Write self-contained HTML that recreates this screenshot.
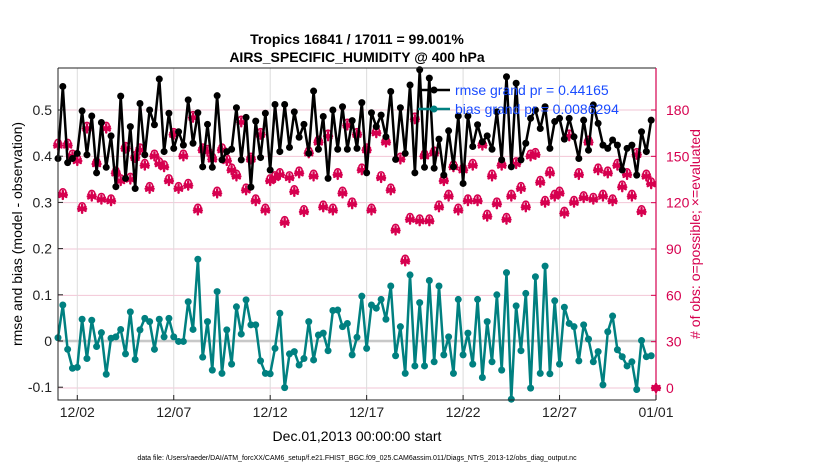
<!DOCTYPE html>
<html><head><meta charset="utf-8">
<style>
body{margin:0;background:#fff;}
svg{display:block;font-family:"Liberation Sans",sans-serif;}
</style></head>
<body>
<svg id="chart" width="830" height="470" viewBox="0 0 830 470" xmlns="http://www.w3.org/2000/svg">
<g id="grid"></g>
<g id="marks"></g>
<g id="axes"></g>
<text x="357" y="44" text-anchor="middle" font-size="14" font-weight="bold">Tropics 16841 / 17011 = 99.001%</text>
<text x="357" y="62" text-anchor="middle" font-size="14" font-weight="bold">AIRS_SPECIFIC_HUMIDITY @ 400 hPa</text>
<text transform="translate(22,234) rotate(-90)" text-anchor="middle" font-size="14">rmse and bias (model - observation)</text>
<text transform="translate(700,234) rotate(-90)" text-anchor="middle" font-size="14" fill="#d6004f"># of obs: o=possible; ×=evaluated</text>
<text x="357" y="441" text-anchor="middle" font-size="14">Dec.01,2013 00:00:00 start</text>
<text x="357" y="460" text-anchor="middle" font-size="7">data file: /Users/raeder/DAI/ATM_forcXX/CAM6_setup/f.e21.FHIST_BGC.f09_025.CAM6assim.011/Diags_NTrS_2013-12/obs_diag_output.nc</text>
<g>
<line x1="418" y1="90" x2="450" y2="90" stroke="#000" stroke-width="2.5"/>
<circle cx="434" cy="90" r="3.5" fill="#000"/>
<text x="455" y="95" font-size="14" fill="#1a4cff">rmse grand pr = 0.44165</text>
<line x1="418" y1="109" x2="450" y2="109" stroke="#008080" stroke-width="2.5"/>
<circle cx="434" cy="109" r="3.5" fill="#008080"/>
<text x="455" y="114" font-size="14" fill="#1a4cff">bias grand pr = 0.0086294</text>
</g>
</svg>
<script>
const rmse=[.395,.551,.386,.395,.406,.498,.403,.487,.364,.473,.376,.444,.334,.530,.352,.464,.330,.514,.403,.500,.468,.567,.410,.493,.417,.453,.424,.522,.428,.494,.377,.469,
.376,
.531,.392,.410,.415,.505,.392,.484,.333,.476,.397,.493,.370,.512,.410,.512,.419,.496,.441,.469,.406,.541,.415,.486,.352,.500,.415,.507,.415,.477,.417,.516,.364,
.494,.464,.489,.442,.540,.393,.505,.406,.554,.364,.587,.376,.569,.374,.437,.359,.455,.377,.487,.341,.487,.421,.468,.431,.444,.415,.496,.392,.572,.377,.558,.392,
.428,.482,.500,.460,.507,.417,.475,.482,.437,.482,.442,.395,.478,.413,.511,.471,.424,.417,.435,.424,.370,.417,.424,.359,.453,.410,.478];
const bias=[.007,.078,-.018,-.059,-.057,.047,-.038,.045,-.012,.018,-.072,.006,.009,.025,-.028,.063,-.040,.024,.049,.042,-.018,.047,.009,.049,.009,-.001,-.001,.085,.025,.177,-.035,.042,
-.063,
.107,-.070,.024,-.050,.074,.015,.089,.035,.035,-.043,-.070,-.071,-.016,.060,-.101,-.028,-.023,-.052,-.038,.042,-.041,.013,.017,-.021,.066,.067,.031,.038,-.030,.008,.097,-.016,
.078,.071,.090,.047,.119,-.032,.031,-.070,.143,-.054,.083,-.054,.131,-.045,.119,-.030,.009,-.070,.090,-.030,.017,-.050,.090,-.079,.042,-.045,.100,-.063,.148,-.126,.076,-.021,
.103,-.102,.139,-.070,.162,-.071,.087,-.050,.073,.038,.031,-.043,.035,.004,-.045,-.023,-.095,.020,.054,-.019,-.034,-.054,-.045,-.105,.001,-.034,-.032];
const nEval=[157,125,157,150,147,116,168,124,145,122,168,121,139,134,155,135,149,154,144,129,150,145,143,134,164,129,150,131,175,115,154,153,
148,
126,154,147,141,137,172,128,148,121,164,115,134,136,138,107,136,127,139,114,152,137,159,117,163,115,138,126,170,119,164,141,154,
115,165,136,159,128,102,148,82,109,174,108,150,108,152,117,134,124,143,115,141,121,144,121,157,111,137,119,144,109,124,145,129,
117,150,151,133,120,139,124,126,113,163,120,138,123,159,122,141,124,139,121,144,130,138,124,151,114,137,132,0];
const nPoss=[159,127,159,152,149,118,170,126,147,124,170,123,141,136,157,137,151,156,146,131,152,147,145,136,166,131,152,133,177,117,156,155,
150,
128,156,149,143,139,174,130,150,123,166,117,136,138,140,109,138,129,141,116,154,139,161,119,165,117,140,128,172,121,166,143,156,
117,167,138,161,130,104,150,84,111,176,110,152,110,154,119,136,126,145,117,143,123,146,123,159,113,139,121,146,111,126,147,131,
119,152,153,135,122,141,126,128,115,165,122,140,125,161,124,143,126,141,123,146,132,140,126,153,116,139,134,0];
const leftTicks=[-0.1,0,0.1,0.2,0.3,0.4,0.5];
const leftTickLabels=["-0.1","0","0.1","0.2","0.3","0.4","0.5"];
const rightTicks=[0,30,60,90,120,150,180];
const dateTicks=[1,6,11,16,21,26,31];
const dateLabels=["12/02","12/07","12/12","12/17","12/22","12/27","01/01"];
const stepDays=0.25;

const X0=58,X1=656,Y0=68,Y1=400;
const xS=d=>X0+d*(X1-X0)/31;
const yL=v=>341-v*462;
const yR=c=>388-c*(278/180);
const NS="http://www.w3.org/2000/svg";
function mk(parent,tag,attrs){const e=document.createElementNS(NS,tag);for(const k in attrs)e.setAttribute(k,attrs[k]);parent.appendChild(e);return e;}
const grid=document.getElementById('grid'),marks=document.getElementById('marks'),axes=document.getElementById('axes');

rightTicks.forEach((c,i)=>{const l=mk(grid,'line',{x1:X0,x2:X1,y1:yR(c),y2:yR(c),stroke:'#f2c6d6','stroke-width':1});

});
dateTicks.forEach((d,i)=>{const l=mk(grid,'line',{x1:xS(d),x2:xS(d),y1:Y0,y2:Y1,stroke:'#dcdcdc','stroke-width':1});

});
const zl=mk(grid,'line',{x1:X0,x2:X1,y1:yL(0),y2:yL(0),stroke:'#c8c8c8','stroke-width':2.5});



// obs counts
nPoss.forEach((c,i)=>{const ci=mk(marks,'circle',{cx:xS(i*stepDays),cy:yR(c),r:3,fill:'none',stroke:'#d6004f','stroke-width':1.6});

});
nEval.forEach((c,i)=>{const x=xS(i*stepDays),y=yR(c);const g=mk(marks,'g',{stroke:'#d6004f','stroke-width':2.4,'stroke-linecap':'round'});


for(let a=0;a<3;a++){const an=Math.PI/2+a*Math.PI/3;mk(g,'line',{x1:x-4*Math.cos(an),y1:y-4*Math.sin(an),x2:x+4*Math.cos(an),y2:y+4*Math.sin(an)});}
mk(g,'line',{x1:x-4,y1:y,x2:x+4,y2:y});});

function series(vals,color,name){
 const pts=vals.map((v,i)=>xS(i*stepDays).toFixed(1)+','+yL(v).toFixed(1)).join(' ');
 const pl=mk(marks,'polyline',{points:pts,fill:'none',stroke:color,'stroke-width':2.5,'stroke-linejoin':'round'});
 
 
 vals.forEach((v,i)=>{const c=mk(marks,'circle',{cx:xS(i*stepDays),cy:yL(v),r:3.5,fill:color});
 
 });
}
series(rmse,'#000','rmse');
series(bias,'#008080','bias');

// axes
const fr=mk(axes,'path',{d:`M${X0},${Y0}H${X1}M${X0},${Y0}V${Y1}H${X1}`,fill:'none',stroke:'#222','stroke-width':1});


const ra=mk(axes,'line',{x1:X1,x2:X1,y1:Y0,y2:Y1,stroke:'#d6004f','stroke-width':1.2});


leftTicks.forEach((v,i)=>{mk(axes,'line',{x1:X0,x2:X0+5,y1:yL(v),y2:yL(v),stroke:'#222'});
const t=mk(axes,'text',{x:X0-6,y:yL(v)+5,'text-anchor':'end','font-size':14,fill:'#222'});t.textContent=leftTickLabels[i];

});
rightTicks.forEach(c=>{mk(axes,'line',{x1:X1-5,x2:X1,y1:yR(c),y2:yR(c),stroke:'#d6004f'});
const t=mk(axes,'text',{x:X1+10,y:yR(c)+5,'font-size':14,fill:'#d6004f'});t.textContent=c;

});
dateTicks.forEach((d,i)=>{mk(axes,'line',{x1:xS(d),x2:xS(d),y1:Y1,y2:Y1-5,stroke:'#222'});
const t=mk(axes,'text',{x:xS(d),y:Y1+17,'text-anchor':'middle','font-size':14,fill:'#222'});t.textContent=dateLabels[i];

});
</script>
</body></html>
